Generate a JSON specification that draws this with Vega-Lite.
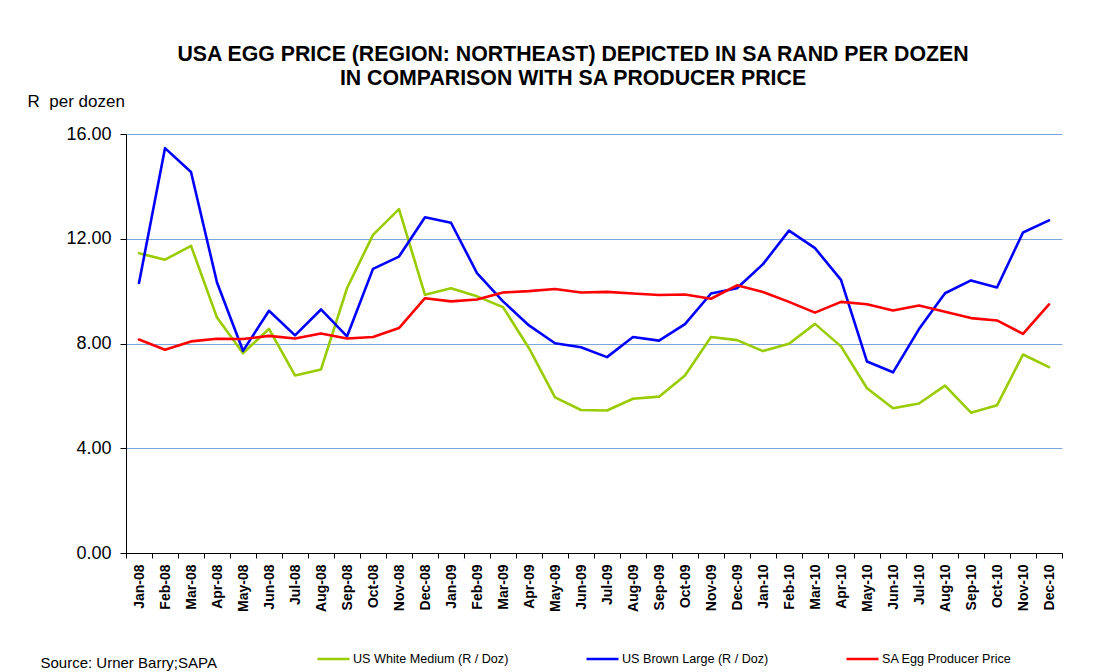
{
  "$schema": "https://vega.github.io/schema/vega-lite/v6.json",
  "width": 936,
  "height": 419,
  "autosize": {"type": "none"},
  "padding": {"left": 126, "top": 134, "right": 38, "bottom": 119},
  "background": "white",
  "title": {
    "text": ["USA EGG PRICE (REGION: NORTHEAST) DEPICTED IN SA RAND PER DOZEN", "IN COMPARISON WITH SA PRODUCER PRICE"],
    "anchor": "middle",
    "frame": "group",
    "dx": -21,
    "offset": 3,
    "font": "Liberation Sans",
    "fontSize": 21.3,
    "fontWeight": "bold",
    "color": "black",
    "lineHeight": 24
  },
  "data": {"values": [
    {"month":"Jan-08","series":"US White Medium (R / Doz)","price":11.45},
    {"month":"Feb-08","series":"US White Medium (R / Doz)","price":11.20},
    {"month":"Mar-08","series":"US White Medium (R / Doz)","price":11.73},
    {"month":"Apr-08","series":"US White Medium (R / Doz)","price":8.99},
    {"month":"May-08","series":"US White Medium (R / Doz)","price":7.63},
    {"month":"Jun-08","series":"US White Medium (R / Doz)","price":8.56},
    {"month":"Jul-08","series":"US White Medium (R / Doz)","price":6.78},
    {"month":"Aug-08","series":"US White Medium (R / Doz)","price":7.01},
    {"month":"Sep-08","series":"US White Medium (R / Doz)","price":10.11},
    {"month":"Oct-08","series":"US White Medium (R / Doz)","price":12.15},
    {"month":"Nov-08","series":"US White Medium (R / Doz)","price":13.13},
    {"month":"Dec-08","series":"US White Medium (R / Doz)","price":9.86},
    {"month":"Jan-09","series":"US White Medium (R / Doz)","price":10.11},
    {"month":"Feb-09","series":"US White Medium (R / Doz)","price":9.80},
    {"month":"Mar-09","series":"US White Medium (R / Doz)","price":9.39},
    {"month":"Apr-09","series":"US White Medium (R / Doz)","price":7.82},
    {"month":"May-09","series":"US White Medium (R / Doz)","price":5.94},
    {"month":"Jun-09","series":"US White Medium (R / Doz)","price":5.46},
    {"month":"Jul-09","series":"US White Medium (R / Doz)","price":5.44},
    {"month":"Aug-09","series":"US White Medium (R / Doz)","price":5.89},
    {"month":"Sep-09","series":"US White Medium (R / Doz)","price":5.97},
    {"month":"Oct-09","series":"US White Medium (R / Doz)","price":6.78},
    {"month":"Nov-09","series":"US White Medium (R / Doz)","price":8.25},
    {"month":"Dec-09","series":"US White Medium (R / Doz)","price":8.13},
    {"month":"Jan-10","series":"US White Medium (R / Doz)","price":7.71},
    {"month":"Feb-10","series":"US White Medium (R / Doz)","price":7.99},
    {"month":"Mar-10","series":"US White Medium (R / Doz)","price":8.75},
    {"month":"Apr-10","series":"US White Medium (R / Doz)","price":7.89},
    {"month":"May-10","series":"US White Medium (R / Doz)","price":6.29},
    {"month":"Jun-10","series":"US White Medium (R / Doz)","price":5.53},
    {"month":"Jul-10","series":"US White Medium (R / Doz)","price":5.71},
    {"month":"Aug-10","series":"US White Medium (R / Doz)","price":6.39},
    {"month":"Sep-10","series":"US White Medium (R / Doz)","price":5.36},
    {"month":"Oct-10","series":"US White Medium (R / Doz)","price":5.64},
    {"month":"Nov-10","series":"US White Medium (R / Doz)","price":7.58},
    {"month":"Dec-10","series":"US White Medium (R / Doz)","price":7.10},
    {"month":"Jan-08","series":"US Brown Large (R / Doz)","price":10.31},
    {"month":"Feb-08","series":"US Brown Large (R / Doz)","price":15.46},
    {"month":"Mar-08","series":"US Brown Large (R / Doz)","price":14.55},
    {"month":"Apr-08","series":"US Brown Large (R / Doz)","price":10.33},
    {"month":"May-08","series":"US Brown Large (R / Doz)","price":7.72},
    {"month":"Jun-08","series":"US Brown Large (R / Doz)","price":9.25},
    {"month":"Jul-08","series":"US Brown Large (R / Doz)","price":8.31},
    {"month":"Aug-08","series":"US Brown Large (R / Doz)","price":9.30},
    {"month":"Sep-08","series":"US Brown Large (R / Doz)","price":8.27},
    {"month":"Oct-08","series":"US Brown Large (R / Doz)","price":10.85},
    {"month":"Nov-08","series":"US Brown Large (R / Doz)","price":11.32},
    {"month":"Dec-08","series":"US Brown Large (R / Doz)","price":12.82},
    {"month":"Jan-09","series":"US Brown Large (R / Doz)","price":12.61},
    {"month":"Feb-09","series":"US Brown Large (R / Doz)","price":10.69},
    {"month":"Mar-09","series":"US Brown Large (R / Doz)","price":9.61},
    {"month":"Apr-09","series":"US Brown Large (R / Doz)","price":8.69},
    {"month":"May-09","series":"US Brown Large (R / Doz)","price":8.01},
    {"month":"Jun-09","series":"US Brown Large (R / Doz)","price":7.86},
    {"month":"Jul-09","series":"US Brown Large (R / Doz)","price":7.48},
    {"month":"Aug-09","series":"US Brown Large (R / Doz)","price":8.25},
    {"month":"Sep-09","series":"US Brown Large (R / Doz)","price":8.11},
    {"month":"Oct-09","series":"US Brown Large (R / Doz)","price":8.74},
    {"month":"Nov-09","series":"US Brown Large (R / Doz)","price":9.91},
    {"month":"Dec-09","series":"US Brown Large (R / Doz)","price":10.11},
    {"month":"Jan-10","series":"US Brown Large (R / Doz)","price":11.03},
    {"month":"Feb-10","series":"US Brown Large (R / Doz)","price":12.31},
    {"month":"Mar-10","series":"US Brown Large (R / Doz)","price":11.64},
    {"month":"Apr-10","series":"US Brown Large (R / Doz)","price":10.43},
    {"month":"May-10","series":"US Brown Large (R / Doz)","price":7.31},
    {"month":"Jun-10","series":"US Brown Large (R / Doz)","price":6.90},
    {"month":"Jul-10","series":"US Brown Large (R / Doz)","price":8.55},
    {"month":"Aug-10","series":"US Brown Large (R / Doz)","price":9.92},
    {"month":"Sep-10","series":"US Brown Large (R / Doz)","price":10.41},
    {"month":"Oct-10","series":"US Brown Large (R / Doz)","price":10.14},
    {"month":"Nov-10","series":"US Brown Large (R / Doz)","price":12.24},
    {"month":"Dec-10","series":"US Brown Large (R / Doz)","price":12.70},
    {"month":"Jan-08","series":"SA Egg Producer Price","price":8.15},
    {"month":"Feb-08","series":"SA Egg Producer Price","price":7.76},
    {"month":"Mar-08","series":"SA Egg Producer Price","price":8.08},
    {"month":"Apr-08","series":"SA Egg Producer Price","price":8.18},
    {"month":"May-08","series":"SA Egg Producer Price","price":8.17},
    {"month":"Jun-08","series":"SA Egg Producer Price","price":8.29},
    {"month":"Jul-08","series":"SA Egg Producer Price","price":8.19},
    {"month":"Aug-08","series":"SA Egg Producer Price","price":8.38},
    {"month":"Sep-08","series":"SA Egg Producer Price","price":8.19},
    {"month":"Oct-08","series":"SA Egg Producer Price","price":8.25},
    {"month":"Nov-08","series":"SA Egg Producer Price","price":8.59},
    {"month":"Dec-08","series":"SA Egg Producer Price","price":9.73},
    {"month":"Jan-09","series":"SA Egg Producer Price","price":9.61},
    {"month":"Feb-09","series":"SA Egg Producer Price","price":9.68},
    {"month":"Mar-09","series":"SA Egg Producer Price","price":9.95},
    {"month":"Apr-09","series":"SA Egg Producer Price","price":10.00},
    {"month":"May-09","series":"SA Egg Producer Price","price":10.08},
    {"month":"Jun-09","series":"SA Egg Producer Price","price":9.95},
    {"month":"Jul-09","series":"SA Egg Producer Price","price":9.97},
    {"month":"Aug-09","series":"SA Egg Producer Price","price":9.91},
    {"month":"Sep-09","series":"SA Egg Producer Price","price":9.85},
    {"month":"Oct-09","series":"SA Egg Producer Price","price":9.87},
    {"month":"Nov-09","series":"SA Egg Producer Price","price":9.71},
    {"month":"Dec-09","series":"SA Egg Producer Price","price":10.22},
    {"month":"Jan-10","series":"SA Egg Producer Price","price":9.97},
    {"month":"Feb-10","series":"SA Egg Producer Price","price":9.59},
    {"month":"Mar-10","series":"SA Egg Producer Price","price":9.18},
    {"month":"Apr-10","series":"SA Egg Producer Price","price":9.59},
    {"month":"May-10","series":"SA Egg Producer Price","price":9.50},
    {"month":"Jun-10","series":"SA Egg Producer Price","price":9.26},
    {"month":"Jul-10","series":"SA Egg Producer Price","price":9.45},
    {"month":"Aug-10","series":"SA Egg Producer Price","price":9.21},
    {"month":"Sep-10","series":"SA Egg Producer Price","price":8.97},
    {"month":"Oct-10","series":"SA Egg Producer Price","price":8.88},
    {"month":"Nov-10","series":"SA Egg Producer Price","price":8.37},
    {"month":"Dec-10","series":"SA Egg Producer Price","price":9.49}
  ]},
  "mark": {"type": "line", "strokeJoin": "round", "strokeCap": "round"},
  "encoding": {
    "x": {
      "field": "month",
      "type": "nominal",
      "sort": null,
      "scale": {"paddingInner": 0, "paddingOuter": 0},
      "axis": {
        "title": "Source: Urner Barry;SAPA",
        "titleAnchor": "start",
        "titleAlign": "left",
        "titleBaseline": "alphabetic",
        "titleX": -86,
        "titleY": 114,
        "titleFont": "Liberation Sans",
        "titleFontSize": 15,
        "titleFontWeight": "normal",
        "titleColor": "black",
        "labelAngle": -90,
        "labelFont": "Liberation Sans",
        "labelFontSize": 14,
        "labelFontWeight": "bold",
        "labelColor": "black",
        "labelPadding": 6,
        "tickBand": "extent",
        "tickColor": "black",
        "tickSize": 5,
        "domainColor": "black",
        "grid": false
      }
    },
    "y": {
      "field": "price",
      "type": "quantitative",
      "scale": {"domain": [0, 16], "nice": false, "zero": true},
      "axis": {
        "values": [0, 4, 8, 12, 16],
        "format": ".2f",
        "title": "R\u00a0 per dozen",
        "titleAngle": 0,
        "titleAlign": "left",
        "titleBaseline": "alphabetic",
        "titleX": -99,
        "titleY": -28,
        "titleFont": "Liberation Sans",
        "titleFontSize": 17,
        "titleFontWeight": "normal",
        "titleColor": "black",
        "labelFont": "Liberation Sans",
        "labelFontSize": 18,
        "labelColor": "black",
        "labelPadding": 9,
        "tickColor": "black",
        "tickSize": 6,
        "domainColor": "black",
        "grid": true,
        "gridColor": "#7fa6dc",
        "gridWidth": 1
      }
    },
    "color": {
      "field": "series",
      "type": "nominal",
      "scale": {
        "domain": ["US White Medium (R / Doz)", "US Brown Large (R / Doz)", "SA Egg Producer Price"],
        "range": ["#99cc00", "#0000ff", "#ff0000"]
      },
      "legend": {
        "title": null,
        "orient": "none",
        "legendX": 190,
        "legendY": 507,
        "direction": "horizontal",
        "padding": 0,
        "symbolType": "stroke",
        "symbolSize": 1024,
        "symbolStrokeWidth": 2,
        "labelFont": "Liberation Sans",
        "labelFontSize": 12.6,
        "labelColor": "black",
        "labelOffset": 2,
        "labelLimit": 0,
        "columnPadding": 72
      }
    },
    "strokeWidth": {
      "field": "series",
      "type": "nominal",
      "scale": {
        "domain": ["US White Medium (R / Doz)", "US Brown Large (R / Doz)", "SA Egg Producer Price"],
        "range": [2.6, 2.6, 4.6]
      },
      "legend": null
    }
  },
  "config": {
    "view": {"stroke": null},
    "font": "Liberation Sans"
  }
}
